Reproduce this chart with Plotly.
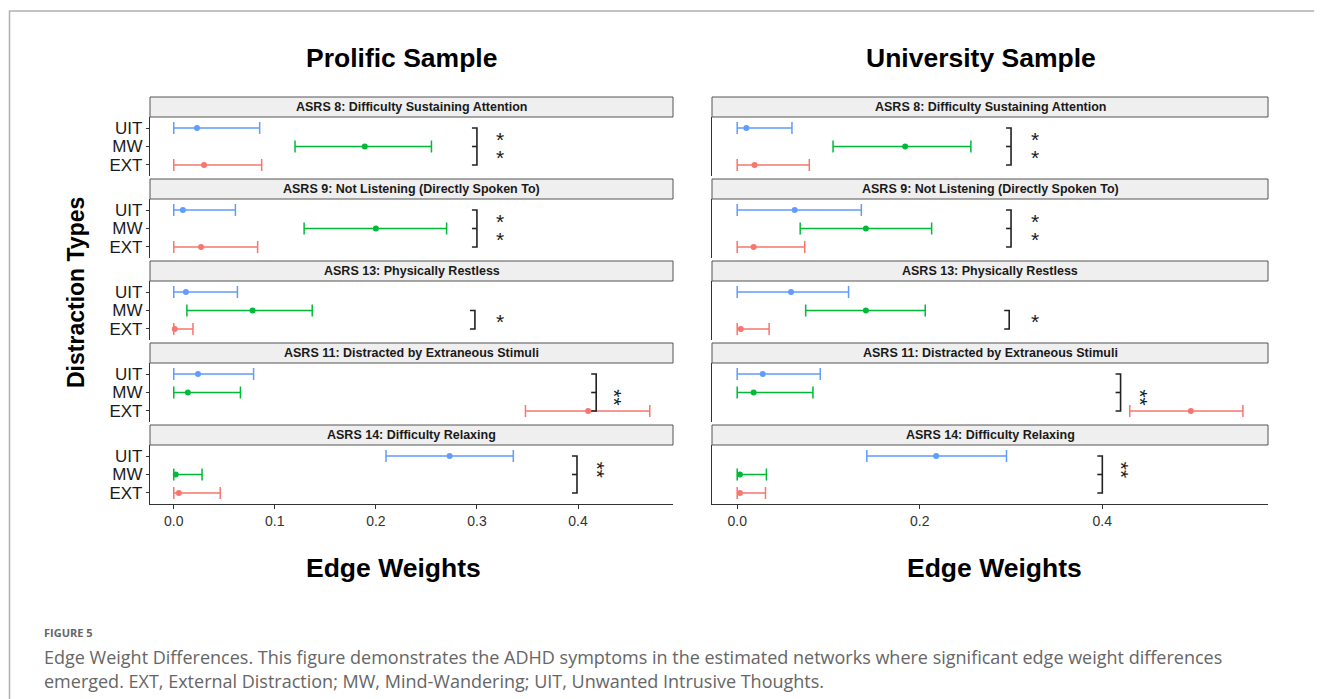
import plotly.graph_objects as go

W, H = 1322, 699

# ---------------- data ----------------
facets = [
    "ASRS 8: Difficulty Sustaining Attention",
    "ASRS 9: Not Listening (Directly Spoken To)",
    "ASRS 13: Physically Restless",
    "ASRS 11: Distracted by Extraneous Stimuli",
    "ASRS 14: Difficulty Relaxing",
]
categories = ["UIT", "MW", "EXT"]
samples = ["Prolific Sample", "University Sample"]

# Prolific sample
pro_uit_est = [0.023, 0.009, 0.012, 0.024, 0.273]
pro_uit_lo = [0.0, 0.0, 0.0, 0.0, 0.210]
pro_uit_hi = [0.085, 0.061, 0.063, 0.079, 0.336]
pro_mw_est = [0.189, 0.200, 0.078, 0.014, 0.002]
pro_mw_lo = [0.120, 0.129, 0.013, 0.0, 0.0]
pro_mw_hi = [0.255, 0.270, 0.137, 0.066, 0.028]
pro_ext_est = [0.030, 0.027, 0.001, 0.410, 0.005]
pro_ext_lo = [0.0, 0.0, 0.0, 0.348, 0.0]
pro_ext_hi = [0.087, 0.083, 0.019, 0.471, 0.046]

# University sample
uni_uit_est = [0.010, 0.063, 0.059, 0.028, 0.218]
uni_uit_lo = [0.0, 0.0, 0.0, 0.0, 0.142]
uni_uit_hi = [0.060, 0.136, 0.122, 0.091, 0.295]
uni_mw_est = [0.184, 0.141, 0.141, 0.018, 0.003]
uni_mw_lo = [0.105, 0.069, 0.075, 0.0, 0.0]
uni_mw_hi = [0.256, 0.213, 0.206, 0.083, 0.032]
uni_ext_est = [0.019, 0.018, 0.004, 0.497, 0.003]
uni_ext_lo = [0.0, 0.0, 0.0, 0.430, 0.0]
uni_ext_hi = [0.079, 0.074, 0.035, 0.554, 0.031]

# significance brackets (x position, top category, bottom category)
pro_bracket_x = [0.300, 0.300, 0.298, 0.418, 0.399]
uni_bracket_x = [0.300, 0.300, 0.298, 0.420, 0.400]
bracket_top = ["UIT", "UIT", "MW", "UIT", "UIT"]
bracket_bottom = ["EXT", "EXT", "EXT", "EXT", "EXT"]
pro_star_x = [0.323, 0.323, 0.323, 0.441, 0.424]
uni_star_x = [0.326, 0.326, 0.326, 0.447, 0.426]
star_labels = [["*", "*"], ["*", "*"], ["*"], ["**"], ["**"]]
star_y = [[2.5, 1.5], [2.5, 1.5], [1.5], [1.72], [2.25]]
star_rotated = [False, False, False, True, True]

x_ticks = [[0.0, 0.1, 0.2, 0.3, 0.4], [0.0, 0.2, 0.4]]
x_ranges = [[-0.0235, 0.494], [-0.0276, 0.5815]]

data = {
    0: {"UIT": (pro_uit_est, pro_uit_lo, pro_uit_hi),
        "MW": (pro_mw_est, pro_mw_lo, pro_mw_hi),
        "EXT": (pro_ext_est, pro_ext_lo, pro_ext_hi)},
    1: {"UIT": (uni_uit_est, uni_uit_lo, uni_uit_hi),
        "MW": (uni_mw_est, uni_mw_lo, uni_mw_hi),
        "EXT": (uni_ext_est, uni_ext_lo, uni_ext_hi)},
}
bracket_x = [pro_bracket_x, uni_bracket_x]
star_x = [pro_star_x, uni_star_x]

# ---------------- style / layout ----------------
colors = {"UIT": "#619CFF", "MW": "#00BA38", "EXT": "#F8766D"}
cat_y = {"UIT": 3, "MW": 2, "EXT": 1}
FONT = "Liberation Sans"
AXIS_COLOR = "#333333"

col_px = [(150, 673), (712, 1268)]
STRIP_TOP0 = 97
PITCH = 82
STRIP_H = 20
PANEL_H = 59
BRACKET_TICK_PX = 5
PAGE_OFF = 8  # browser body margin


def fx(x):
    return (x - PAGE_OFF) / W


def fy(y):
    return 1 - (y - PAGE_OFF) / H


fig = go.Figure()
annotations = []
shapes = []
layout_axes = {}

for j in range(2):
    x0p, x1p = col_px[j]
    px_per_unit = (x1p - x0p) / (x_ranges[j][1] - x_ranges[j][0])
    tick_d = BRACKET_TICK_PX / px_per_unit
    for i in range(5):
        n = j * 5 + i + 1
        xa = "xaxis" if n == 1 else f"xaxis{n}"
        ya = "yaxis" if n == 1 else f"yaxis{n}"
        xr = "x" if n == 1 else f"x{n}"
        yr = "y" if n == 1 else f"y{n}"
        s_top = STRIP_TOP0 + PITCH * i
        p_top = s_top + STRIP_H
        p_bot = p_top + PANEL_H
        bottom = (i == 4)

        layout_axes[xa] = dict(
            domain=[fx(x0p), fx(x1p)], range=x_ranges[j], anchor=yr,
            showgrid=False, zeroline=False,
            showline=bottom, linecolor=AXIS_COLOR, linewidth=1.3,
            ticks="outside" if bottom else "", ticklen=4, tickcolor=AXIS_COLOR,
            tickwidth=1,
            showticklabels=bottom, tickvals=x_ticks[j],
            ticktext=[f"{v:.1f}" for v in x_ticks[j]],
            tickfont=dict(family=FONT, size=14, color="#333333"),
            fixedrange=True,
        )
        layout_axes[ya] = dict(
            domain=[fy(p_bot), fy(p_top)], range=[0.4, 3.6], anchor=xr,
            showgrid=False, zeroline=False,
            showline=True, linecolor=AXIS_COLOR, linewidth=1.3,
            ticks="outside" if j == 0 else "", ticklen=3, tickcolor=AXIS_COLOR,
            showticklabels=(j == 0),
            tickvals=[cat_y[c] for c in categories], ticktext=categories,
            tickfont=dict(family=FONT, size=17, color="#1a1a1a"),
            fixedrange=True,
        )

        # strip
        shapes.append(dict(type="rect", xref="paper", yref="paper",
                           x0=fx(x0p), x1=fx(x1p), y0=fy(s_top + STRIP_H), y1=fy(s_top),
                           fillcolor="#efefef", line=dict(color="#555555", width=1),
                           layer="above"))
        annotations.append(dict(xref="paper", yref="paper",
                                x=fx((x0p + x1p) / 2), y=fy(s_top + STRIP_H / 2),
                                text=f"<b>{facets[i]}</b>", showarrow=False,
                                font=dict(family=FONT, size=12.5, color="#1a1a1a"),
                                xanchor="center", yanchor="middle"))

        # points with error bars
        for c in categories:
            est, lo, hi = data[j][c]
            fig.add_trace(go.Scatter(
                x=[est[i]], y=[cat_y[c]], xaxis=xr, yaxis=yr, mode="markers",
                marker=dict(color=colors[c], size=6),
                error_x=dict(type="data", symmetric=False,
                             array=[hi[i] - est[i]], arrayminus=[est[i] - lo[i]],
                             color=colors[c], thickness=1.5, width=6),
                hoverinfo="skip", showlegend=False,
            ))

        # bracket
        bx = bracket_x[j][i]
        ytop = cat_y[bracket_top[i]]
        ybot = cat_y[bracket_bottom[i]]
        xs = [bx - tick_d, bx, bx, bx - tick_d]
        ys = [ytop, ytop, ybot, ybot]
        if ytop - ybot == 2:
            xs += [None, bx - tick_d, bx]
            ys += [None, (ytop + ybot) / 2, (ytop + ybot) / 2]
        fig.add_trace(go.Scatter(x=xs, y=ys, xaxis=xr, yaxis=yr, mode="lines",
                                 line=dict(color="#222222", width=1.6),
                                 hoverinfo="skip", showlegend=False))
        for lab, yy in zip(star_labels[i], star_y[i]):
            if star_rotated[i]:
                annotations.append(dict(xref=xr, yref=yr, x=star_x[j][i], y=yy,
                                        text=lab, showarrow=False, textangle=90,
                                        xshift=-5,
                                        font=dict(family=FONT, size=21, color="#1a1a1a")))
            else:
                annotations.append(dict(xref=xr, yref=yr, x=star_x[j][i], y=yy,
                                        text=lab, showarrow=False, yshift=-2,
                                        font=dict(family=FONT, size=21, color="#1a1a1a")))

# titles
title_font = dict(family=FONT, size=26.5, color="#000000")
annotations += [
    dict(xref="paper", yref="paper", x=fx(401), y=fy(58), text="<b>Prolific Sample</b>",
         showarrow=False, font=title_font, xanchor="center", yanchor="middle"),
    dict(xref="paper", yref="paper", x=fx(981), y=fy(58), text="<b>University Sample</b>",
         showarrow=False, font=title_font, xanchor="center", yanchor="middle"),
    dict(xref="paper", yref="paper", x=fx(393), y=fy(568), text="<b>Edge Weights</b>",
         showarrow=False, font=title_font, xanchor="center", yanchor="middle"),
    dict(xref="paper", yref="paper", x=fx(994), y=fy(568), text="<b>Edge Weights</b>",
         showarrow=False, font=title_font, xanchor="center", yanchor="middle"),
    dict(xref="paper", yref="paper", x=fx(76), y=fy(293), text="<b>Distraction Types</b>",
         showarrow=False, textangle=-90, font=dict(family=FONT, size=23, color="#000000"),
         xanchor="center", yanchor="middle"),
]

# caption
cap_font = "Open Sans"
annotations += [
    dict(xref="paper", yref="paper", x=fx(42), y=fy(632), text="<b>FIGURE 5</b>",
         showarrow=False, xanchor="left", yanchor="middle",
         font=dict(family=cap_font, size=11, color="#666666")),
    dict(xref="paper", yref="paper", x=fx(42), y=fy(657),
         text="Edge Weight Differences. This figure demonstrates the ADHD symptoms in the estimated networks where significant edge weight differences",
         showarrow=False, xanchor="left", yanchor="middle",
         font=dict(family=cap_font, size=18, color="#666666")),
    dict(xref="paper", yref="paper", x=fx(42), y=fy(681),
         text="emerged. EXT, External Distraction; MW, Mind-Wandering; UIT, Unwanted Intrusive Thoughts.",
         showarrow=False, xanchor="left", yanchor="middle",
         font=dict(family=cap_font, size=18, color="#666666")),
]

# card border (top + left)
shapes.append(dict(type="path", xref="paper", yref="paper",
                   path=f"M {fx(9.5)},{fy(H + 20)} L {fx(9.5)},{fy(11)} L {fx(W + 20)},{fy(11)}",
                   line=dict(color="#b0b0b0", width=1.5)))

fig.update_layout(
    width=W, height=H, margin=dict(l=0, r=0, t=0, b=0),
    paper_bgcolor="white", plot_bgcolor="white", showlegend=False,
    annotations=annotations, shapes=shapes, **layout_axes,
)

fig.write_html("out.html")
